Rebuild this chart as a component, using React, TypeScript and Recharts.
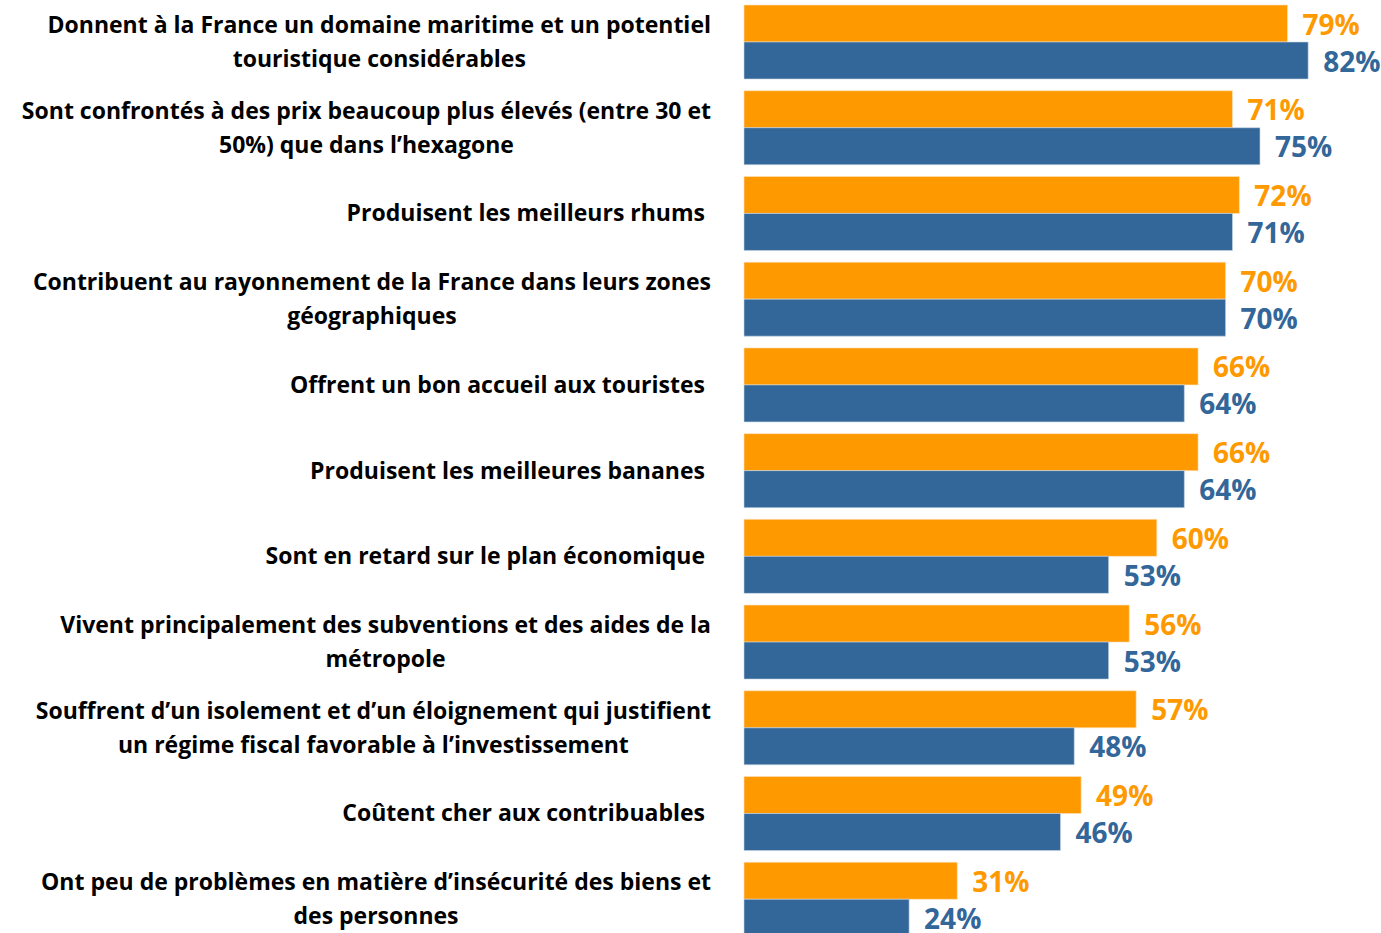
// Horizontal grouped bars: perception survey of the French overseas territories.
import { Bar, BarChart, LabelList, XAxis, YAxis } from "recharts";

const categories = [
  "Donnent à la France un domaine maritime et un potentiel\ntouristique considérables",
  "Sont confrontés à des prix beaucoup plus élevés (entre 30 et\n50%) que dans l’hexagone",
  "Produisent les meilleurs rhums",
  "Contribuent au rayonnement de la France dans leurs zones\ngéographiques",
  "Offrent un bon accueil aux touristes",
  "Produisent les meilleures bananes",
  "Sont en retard sur le plan économique",
  "Vivent principalement des subventions et des aides de la\nmétropole",
  "Souffrent d’un isolement et d’un éloignement qui justifient\nun régime fiscal favorable à l’investissement",
  "Coûtent cher aux contribuables",
  "Ont peu de problèmes en matière d’insécurité des biens et\ndes personnes",
];
const orangeValues = [79, 71, 72, 70, 66, 66, 60, 56, 57, 49, 31];
const blueValues = [82, 75, 71, 70, 64, 64, 53, 53, 48, 46, 24];

const rows = categories.map((name, i) => ({
  name,
  a: orangeValues[i],
  b: blueValues[i],
}));

const ORANGE = "#ff9900";
const BLUE = "#336699";
const FONT = "'Open Sans', sans-serif";
const TICK_SIZE = 23;

let measureCtx: CanvasRenderingContext2D | null = null;
function textWidth(s: string): number {
  if (!measureCtx) {
    measureCtx = document.createElement("canvas").getContext("2d");
  }
  if (!measureCtx) return s.length * 12;
  measureCtx.font = `bold ${TICK_SIZE}px 'Open Sans'`;
  return measureCtx.measureText(s).width;
}

const CategoryTick = (props: any) => {
  const { y, payload } = props;
  const lines = String(payload.value).split("\n");
  if (lines.length === 1) {
    return (
      <text
        x={705}
        y={y}
        dy="0.35em"
        textAnchor="end"
        fontFamily={FONT}
        fontWeight={700}
        fontSize={TICK_SIZE}
        fill="#000"
      >
        {lines[0]}
      </text>
    );
  }
  const w = Math.max(...lines.map(textWidth));
  const cx = 711 - w / 2;
  const lh = 34;
  return (
    <text
      textAnchor="middle"
      fontFamily={FONT}
      fontWeight={700}
      fontSize={TICK_SIZE}
      fill="#000"
    >
      {lines.map((l, i) => (
        <tspan key={i} x={cx} y={y + (i - (lines.length - 1) / 2) * lh} dy="0.35em">
          {l}
        </tspan>
      ))}
    </text>
  );
};

const valueLabel = (color: string) => (props: any) => {
  const { x, y, width, height, value } = props;
  return (
    <text
      x={x + width + 15}
      y={y + height / 2 + 1}
      dy="0.36em"
      fill={color}
      fontFamily={FONT}
      fontWeight={700}
      fontSize={28}
    >
      {`${value}%`}
    </text>
  );
};

export default function App() {
  return (
    <div
      style={{
        position: "absolute",
        left: 0,
        top: 0,
        width: 1381,
        height: 933,
        overflow: "hidden",
        background: "#fff",
      }}
    >
      <div style={{ marginTop: -1 }}>
        <BarChart
          width={1432}
          height={943}
          data={rows}
          layout="vertical"
          margin={{ top: 0, right: 0, bottom: 0, left: 0 }}
          barGap={0}
          barSize={37}
        >
          <XAxis type="number" domain={[0, 100]} hide />
          <YAxis
            type="category"
            dataKey="name"
            width={744}
            axisLine={false}
            tickLine={false}
            interval={0}
            tick={<CategoryTick />}
          />
          <Bar dataKey="a" fill={ORANGE} stroke="#fbe3c0" strokeWidth={0.6} isAnimationActive={false}>
            <LabelList dataKey="a" content={valueLabel(ORANGE)} />
          </Bar>
          <Bar dataKey="b" fill={BLUE} stroke="#c9d7e6" strokeWidth={0.6} isAnimationActive={false}>
            <LabelList dataKey="b" content={valueLabel(BLUE)} />
          </Bar>
        </BarChart>
      </div>
    </div>
  );
}
